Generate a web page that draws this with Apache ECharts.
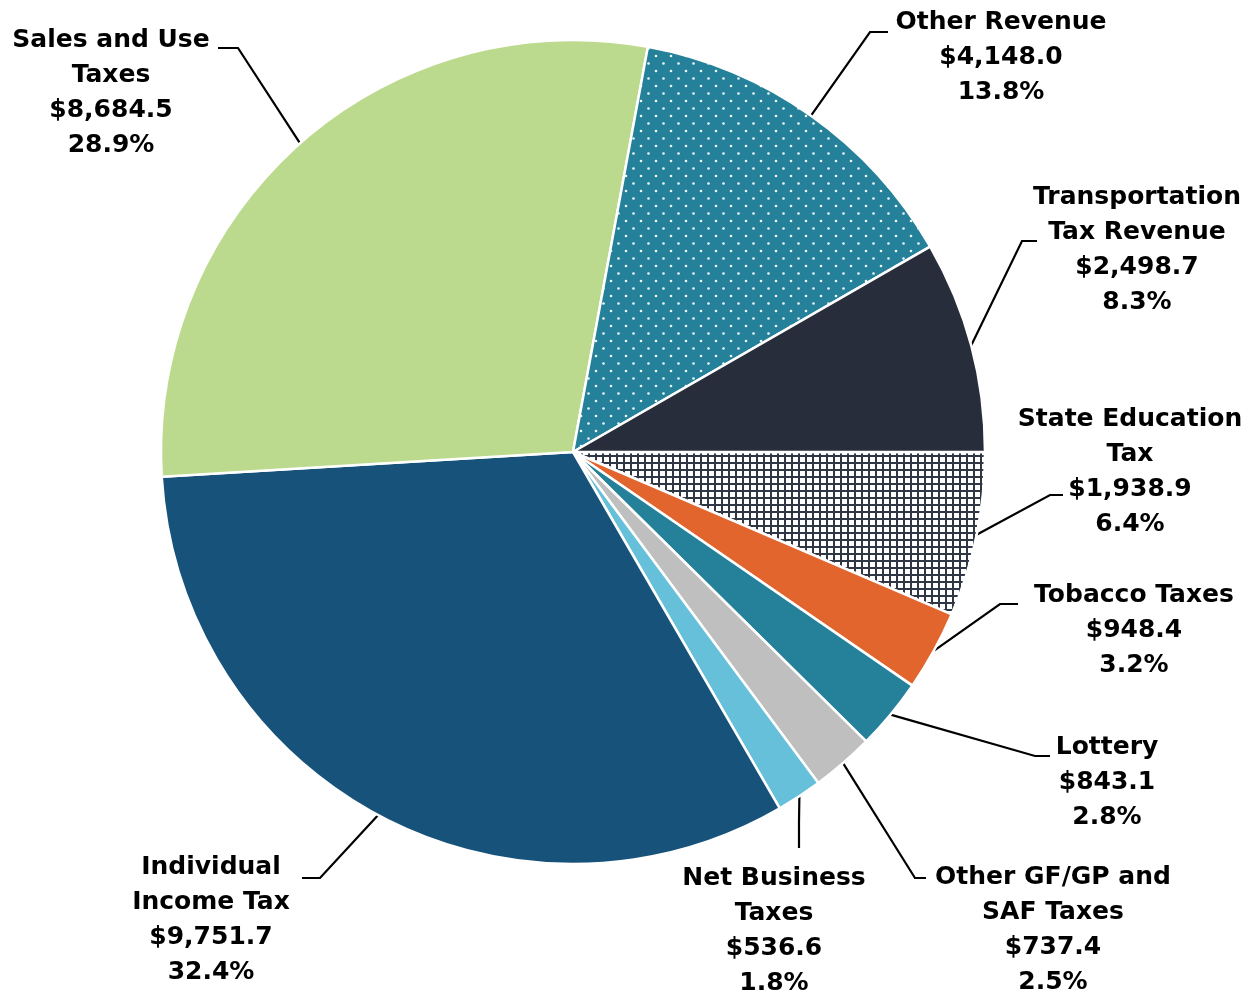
<!DOCTYPE html>
<html lang="en">
<head>
    <meta charset="UTF-8">
    <title>Revenue by Source</title>
    <style>
        html, body { margin: 0; padding: 0; background: #fff; }
    </style>
</head>
<body>

    <div id="echarts" style="width: 1258px; height: 996px"></div>
    <script src="https://cdn.jsdelivr.net/npm/echarts@6/dist/echarts.min.js"></script>
    <script>
        // slices, clockwise from 3 o'clock
        const categories = [
            'State Education\nTax',
            'Tobacco Taxes',
            'Lottery',
            'Other GF/GP and\nSAF Taxes',
            'Net Business\nTaxes',
            'Individual\nIncome Tax',
            'Sales and Use\nTaxes',
            'Other Revenue',
            'Transportation\nTax Revenue'
        ];
        const values = [1938.9, 948.4, 843.1, 737.4, 536.6, 9751.7, 8684.5, 4148.0, 2498.7];
        const colors = ['#ffffff', '#e2652e', '#25819a', '#bfbfbf', '#67c0d9', '#17527b', '#bcda8e', '#25819a', '#272d3a'];

        // where each label sits: [center x, top y] and its leader line [bend(s), end]
        const labelSpots = [
            [1130, 402], [1134, 578], [1107, 730], [1053, 860], [774, 861],
            [211, 850], [111, 23], [1001, 5], [1137, 180]
        ];
        const leaderBends = [
            [[1050, 495], [1063, 495]],
            [[1000, 604], [1018, 604]],
            [[1035, 756], [1050, 756]],
            [[915, 878], [926, 878]],
            [[799, 822], [799, 848]],
            [[320, 878], [302, 878]],
            [[238, 48], [218, 48]],
            [[870, 32], [888, 32]],
            [[1022, 241], [1037, 241]]
        ];

        const CX = 573, CY = 452, R = 412;
        const total = values.reduce((a, b) => a + b, 0);

        // mid angle of each slice (screen coords, clockwise from +x)
        const midAngles = [];
        let acc = 0;
        values.forEach(v => {
            midAngles.push((acc + v / 2) / total * Math.PI * 2);
            acc += v;
        });

        function dotPattern() {
            const c = document.createElement('canvas');
            c.width = 15; c.height = 15;
            const ctx = c.getContext('2d');
            ctx.fillStyle = '#25819a';
            ctx.fillRect(0, 0, 15, 15);
            ctx.fillStyle = '#eef6f8';
            [[3.5, 3.5], [11, 11]].forEach(p => {
                ctx.beginPath();
                ctx.arc(p[0], p[1], 1.3, 0, Math.PI * 2);
                ctx.fill();
            });
            return c;
        }

        function gridPattern() {
            const c = document.createElement('canvas');
            c.width = 7; c.height = 7;
            const ctx = c.getContext('2d');
            ctx.fillStyle = '#ffffff';
            ctx.fillRect(0, 0, 7, 7);
            ctx.fillStyle = '#2f3644';
            ctx.fillRect(0, 0, 7, 2);
            ctx.fillRect(0, 0, 2, 7);
            return c;
        }

        const fills = colors.slice();
        fills[0] = { image: gridPattern(), repeat: 'repeat' };
        fills[7] = { image: dotPattern(), repeat: 'repeat' };

        const money = v => '$' + v.toLocaleString('en-US', { minimumFractionDigits: 1, maximumFractionDigits: 1 });

        const option = {
            animation: false,
            series: [
                {
                    type: 'pie',
                    center: [CX, CY],
                    radius: [0, R],
                    startAngle: 0,
                    clockwise: true,
                    avoidLabelOverlap: false,
                    itemStyle: {
                        borderColor: '#ffffff',
                        borderWidth: 2.5
                    },
                    label: {
                        show: true,
                        position: 'outside',
                        color: '#000',
                        fontFamily: 'DejaVu Sans',
                        fontWeight: 'bold',
                        fontSize: 25,
                        lineHeight: 35,
                        align: 'center',
                        formatter: p => p.name + '\n' + money(p.value) + '\n' + (p.value / total * 100).toFixed(1) + '%'
                    },
                    labelLine: {
                        show: true,
                        length: 20,
                        length2: 20,
                        lineStyle: { color: '#000', width: 2.2 }
                    },
                    labelLayout: function (params) {
                        const i = params.dataIndex;
                        const a = midAngles[i];
                        const start = [CX + R * Math.cos(a), CY + R * Math.sin(a)];
                        return {
                            x: labelSpots[i][0],
                            y: labelSpots[i][1],
                            align: 'center',
                            verticalAlign: 'top',
                            labelLinePoints: [start].concat(leaderBends[i])
                        };
                    },
                    data: categories.map((name, i) => ({
                        name: name,
                        value: values[i],
                        itemStyle: { color: fills[i] }
                    }))
                }
            ]
        };

        var chartDom = document.getElementById("echarts");
        var myChart = echarts.init(chartDom);
        myChart.setOption(option);
    </script>
</body>
</html>
